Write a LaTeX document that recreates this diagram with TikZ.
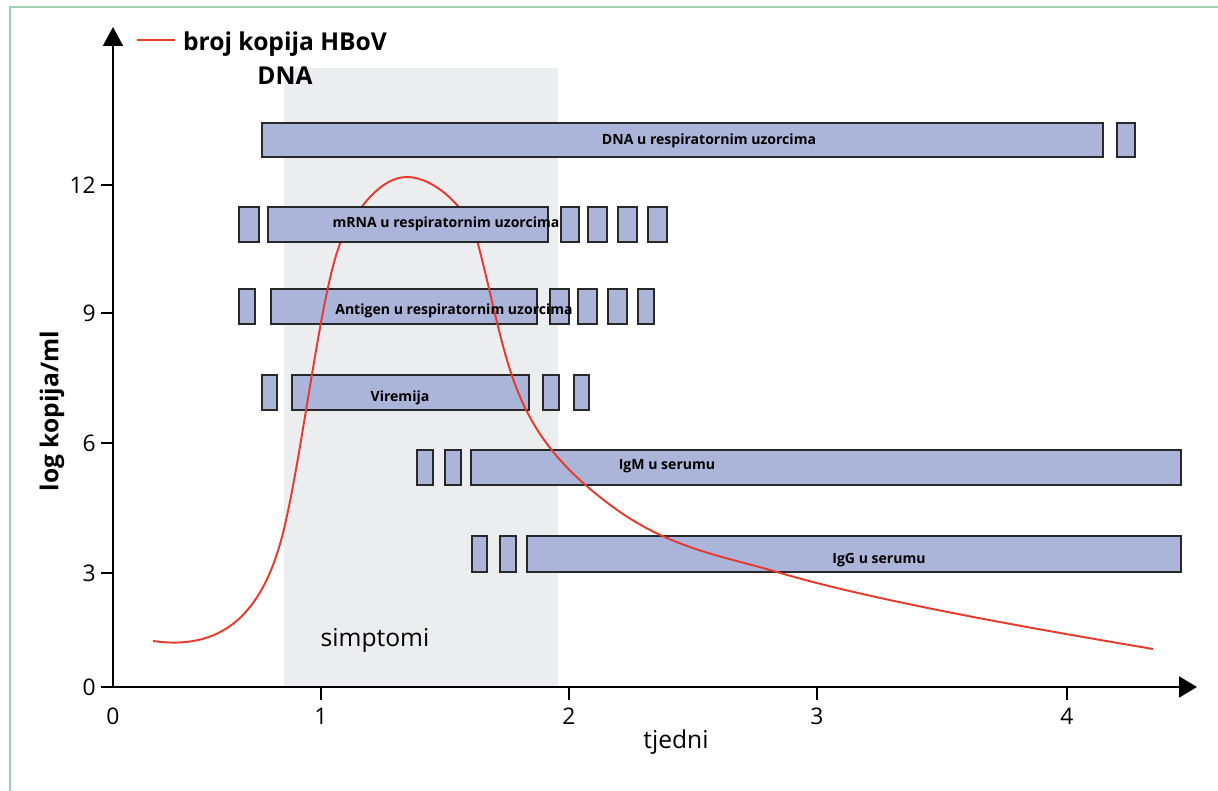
\documentclass[tikz,border=0pt]{standalone}
\usepackage{fontspec}
\setmainfont{Open Sans}
\usetikzlibrary{arrows.meta}

\definecolor{barfill}{RGB}{171,181,218}
\definecolor{barline}{RGB}{40,40,40}
\definecolor{curvered}{RGB}{232,58,44}
\definecolor{symgray}{RGB}{236,237,239}
\definecolor{framegreen}{RGB}{160,208,180}

\tikzset{
  barbox/.style={draw=barline, fill=barfill, line width=1.1pt},
  barlabel/.style={font=\bfseries\fontsize{8}{9}\selectfont, inner sep=0pt},
  ticklabel/.style={font=\fontsize{13}{15}\selectfont, inner sep=0pt},
  axisline/.style={line width=1.1pt, black},
  redline/.style={curvered, line width=1.1pt}
}

\begin{document}
\begin{tikzpicture}[x=0.02cm, y=-0.02cm]
             \useasboundingbox (0,0) rectangle (1218,791);
             \fill[white] (0,0) rectangle (1218,791);
             \draw[framegreen, line width=1.1pt] (10,791) -- (10,7) -- (1218,7);

             \fill[symgray] (284,68) rectangle (558,687);
             \node[font=\fontsize{14}{16}\selectfont] (simptomi) at (375,640) {simptomi};

             \draw[barbox] (262,123) rectangle (1103,157);
             \draw[barbox] (1117,123) rectangle (1135,157);

             \draw[barbox] (239,289) rectangle (255,324);
             \draw[barbox] (271,289) rectangle (537,324);
             \draw[barbox] (550,289) rectangle (569,324);
             \draw[barbox] (578,289) rectangle (597,324);
             \draw[barbox] (608,289) rectangle (627,324);
             \draw[barbox] (638,289) rectangle (654,324);

             \draw[barbox] (262,375) rectangle (277,410);
             \draw[barbox] (292,375) rectangle (529,410);
             \draw[barbox] (543,375) rectangle (559,410);
             \draw[barbox] (574,375) rectangle (589,410);

             \draw[barbox] (417,450) rectangle (433,485);
             \draw[barbox] (445,450) rectangle (461,485);
             \draw[barbox] (471,450) rectangle (1181,485);

             \draw[barbox] (472,536) rectangle (487,572);
             \draw[barbox] (500,536) rectangle (516,572);
             \draw[barbox] (527,536) rectangle (1181,572);

             \draw[redline] (153,641) .. controls (230,652) and (265,604) .. (283,533)
               .. controls (303,453) and (322,278) .. (343,237)
               .. controls (357,210) and (380,177) .. (407,177)
               .. controls (435,177) and (469,210) .. (477,240)
               .. controls (510,366) and (508,430) .. (613,507)
               .. controls (670,549) and (727,557) .. (777,572)
               .. controls (877,602) and (1053,632) .. (1153,649);

             \draw[barbox] (239,207) rectangle (259,242);
             \draw[barbox] (268,207) rectangle (548,242);
             \draw[barbox] (561,207) rectangle (579,242);
             \draw[barbox] (588,207) rectangle (607,242);
             \draw[barbox] (618,207) rectangle (637,242);
             \draw[barbox] (648,207) rectangle (667,242);

             \node[barlabel] (dnalabel) at (709,141) {DNA u respiratornim uzorcima};
             \node[barlabel] (mrnalabel) at (446,224) {mRNA u respiratornim uzorcima};
             \node[barlabel] (antigenlabel) at (454,311) {Antigen u respiratornim uzorcima};
             \node[barlabel] (viremija) at (400,398) {Viremija};
             \node[barlabel] (igm) at (667,466) {IgM u serumu};
             \node[barlabel] (igg) at (879,560) {IgG u serumu};

             \coordinate (origin) at (113,687);
             \coordinate (ytip) at (113,27);
             \coordinate (xstart) at (101,687);
             \coordinate (xtip) at (1197,687);
             \draw[axisline, -{Triangle[length=0.38cm, width=0.4cm]}] (origin) -- (ytip);
             \draw[axisline, -{Triangle[length=0.36cm, width=0.42cm]}] (xstart) -- (xtip);

             \draw[axisline] (101,573) -- (113,573);
             \draw[axisline] (101,443) -- (113,443);
             \draw[axisline] (101,313) -- (113,313);
             \draw[axisline] (101,185) -- (113,185);
             \node[ticklabel, anchor=east] (y0) at (96,687) {0};
             \node[ticklabel, anchor=east] (y3) at (96,573) {3};
             \node[ticklabel, anchor=east] (y6) at (96,443) {6};
             \node[ticklabel, anchor=east] (y9) at (96,313) {9};
             \node[ticklabel, anchor=east] (y12) at (96,185) {12};

             \draw[axisline] (321,687) -- (321,700);
             \draw[axisline] (569,687) -- (569,700);
             \draw[axisline] (817,687) -- (817,700);
             \draw[axisline] (1067,687) -- (1067,700);
             \node[ticklabel] (x0) at (113,716) {0};
             \node[ticklabel] (x1) at (321,716) {1};
             \node[ticklabel] (x2) at (569,716) {2};
             \node[ticklabel] (x3) at (817,716) {3};
             \node[ticklabel] (x4) at (1067,716) {4};

             \node[font=\fontsize{14}{16}\selectfont] (tjedni) at (676,742) {tjedni};
             \node[font=\bfseries\fontsize{14}{16}\selectfont, rotate=90] (ylabel) at (52,411) {log kopija/ml};

             \coordinate (legstart) at (137,40);
             \coordinate (legend) at (175,40);
             \draw[redline] (legstart) -- (legend);
             \node[font=\bfseries\fontsize{14}{19}\selectfont, align=center] (legtext) at (285,58) {broj kopija HBoV\\DNA};
\end{tikzpicture}
\end{document}
